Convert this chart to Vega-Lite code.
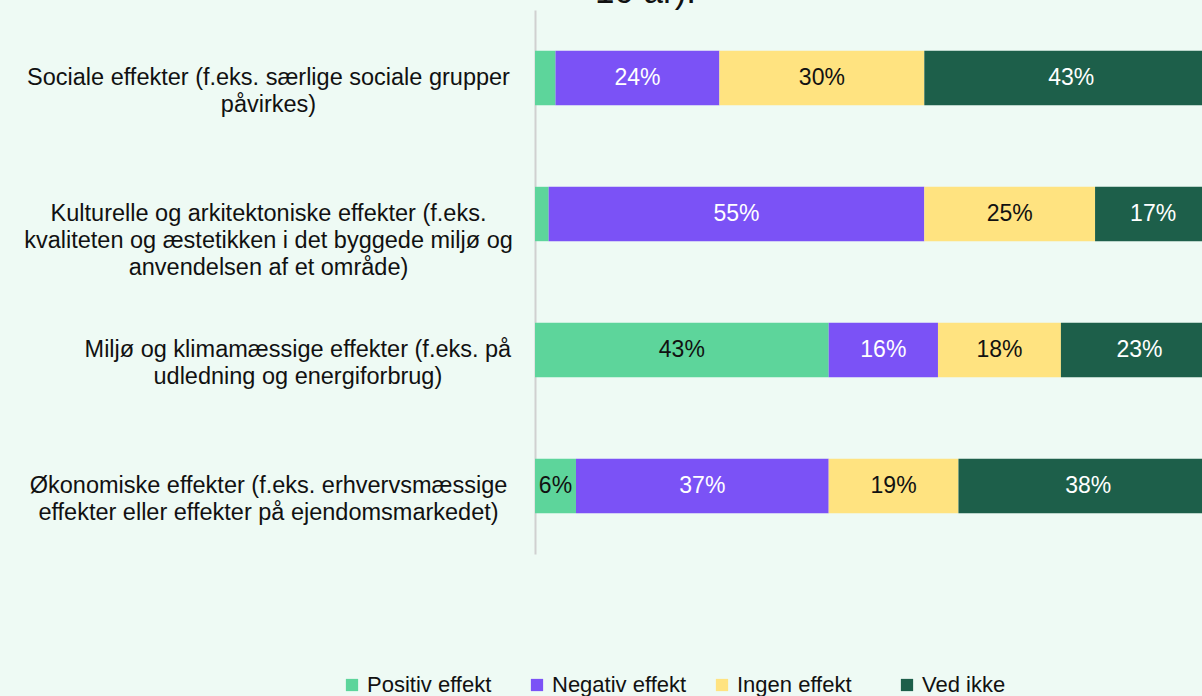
{
  "$schema": "https://vega.github.io/schema/vega-lite/v6.json",
  "width": 683,
  "height": 544,
  "autosize": {"type": "none"},
  "padding": {"left": 535, "top": 10, "right": 0, "bottom": 142},
  "background": "#eefaf4",
  "config": {"view": {"stroke": null}, "font": "Liberation Sans"},
  "title": {"text": "10 år).", "anchor": "middle", "frame": "group", "dx": -231, "dy": 28, "offset": 0, "baseline": "alphabetic", "fontSize": 35, "font": "Liberation Sans", "fontWeight": "normal", "color": "#111111"},
  "data": {"values": [
    {"effekt": "Sociale effekter (f.eks. særlige sociale grupper|påvirkes)", "kategori": "Positiv effekt", "ord": 1, "andel": 0.03},
    {"effekt": "Sociale effekter (f.eks. særlige sociale grupper|påvirkes)", "kategori": "Negativ effekt", "ord": 2, "andel": 0.24},
    {"effekt": "Sociale effekter (f.eks. særlige sociale grupper|påvirkes)", "kategori": "Ingen effekt", "ord": 3, "andel": 0.30},
    {"effekt": "Sociale effekter (f.eks. særlige sociale grupper|påvirkes)", "kategori": "Ved ikke", "ord": 4, "andel": 0.43},
    {"effekt": "Kulturelle og arkitektoniske effekter (f.eks.|kvaliteten og æstetikken i det byggede miljø og|anvendelsen af et område)", "kategori": "Positiv effekt", "ord": 1, "andel": 0.02},
    {"effekt": "Kulturelle og arkitektoniske effekter (f.eks.|kvaliteten og æstetikken i det byggede miljø og|anvendelsen af et område)", "kategori": "Negativ effekt", "ord": 2, "andel": 0.55},
    {"effekt": "Kulturelle og arkitektoniske effekter (f.eks.|kvaliteten og æstetikken i det byggede miljø og|anvendelsen af et område)", "kategori": "Ingen effekt", "ord": 3, "andel": 0.25},
    {"effekt": "Kulturelle og arkitektoniske effekter (f.eks.|kvaliteten og æstetikken i det byggede miljø og|anvendelsen af et område)", "kategori": "Ved ikke", "ord": 4, "andel": 0.17},
    {"effekt": "Miljø og klimamæssige effekter (f.eks. på|udledning og energiforbrug)", "kategori": "Positiv effekt", "ord": 1, "andel": 0.43},
    {"effekt": "Miljø og klimamæssige effekter (f.eks. på|udledning og energiforbrug)", "kategori": "Negativ effekt", "ord": 2, "andel": 0.16},
    {"effekt": "Miljø og klimamæssige effekter (f.eks. på|udledning og energiforbrug)", "kategori": "Ingen effekt", "ord": 3, "andel": 0.18},
    {"effekt": "Miljø og klimamæssige effekter (f.eks. på|udledning og energiforbrug)", "kategori": "Ved ikke", "ord": 4, "andel": 0.23},
    {"effekt": "Økonomiske effekter (f.eks. erhvervsmæssige|effekter eller effekter på ejendomsmarkedet)", "kategori": "Positiv effekt", "ord": 1, "andel": 0.06},
    {"effekt": "Økonomiske effekter (f.eks. erhvervsmæssige|effekter eller effekter på ejendomsmarkedet)", "kategori": "Negativ effekt", "ord": 2, "andel": 0.37},
    {"effekt": "Økonomiske effekter (f.eks. erhvervsmæssige|effekter eller effekter på ejendomsmarkedet)", "kategori": "Ingen effekt", "ord": 3, "andel": 0.19},
    {"effekt": "Økonomiske effekter (f.eks. erhvervsmæssige|effekter eller effekter på ejendomsmarkedet)", "kategori": "Ved ikke", "ord": 4, "andel": 0.38}
  ]},
  "transform": [
    {"stack": "andel", "groupby": ["effekt"], "sort": [{"field": "ord", "order": "ascending"}], "as": ["v0", "v1"]},
    {"calculate": "(datum.v0 + datum.v1) / 2", "as": "midt"}
  ],
  "encoding": {
    "y": {
      "field": "effekt",
      "type": "nominal",
      "sort": [
        "Sociale effekter (f.eks. særlige sociale grupper|påvirkes)",
        "Kulturelle og arkitektoniske effekter (f.eks.|kvaliteten og æstetikken i det byggede miljø og|anvendelsen af et område)",
        "Miljø og klimamæssige effekter (f.eks. på|udledning og energiforbrug)",
        "Økonomiske effekter (f.eks. erhvervsmæssige|effekter eller effekter på ejendomsmarkedet)"
      ],
      "scale": {"paddingInner": 0.6, "paddingOuter": 0.3},
      "axis": {
        "title": null,
        "ticks": false,
        "tickSize": 0,
        "domain": true,
        "domainColor": "#d0d0d0",
        "domainWidth": 2,
        "labelAlign": "center",
        "labelBaseline": "middle",
        "labelPadding": 267,
        "labelFont": "Liberation Sans",
        "labelFontSize": 23.5,
        "labelColor": "#111111",
        "labelLineHeight": 27,
        "labelLimit": 0,
        "labelExpr": "split(indexof(datum.label, 'Miljø') === 0 ? replace('\u200b\u00a0\u00a0\u00a0\u00a0\u00a0\u00a0\u00a0\u00a0\u00a0' + datum.label, '|', '|\u200b\u00a0\u00a0\u00a0\u00a0\u00a0\u00a0\u00a0\u00a0\u00a0') : datum.label, '|')"
      }
    }
  },
  "layer": [
    {
      "mark": {"type": "bar"},
      "encoding": {
        "x": {"field": "v0", "type": "quantitative", "scale": {"domain": [0, 1], "nice": false}, "axis": null},
        "x2": {"field": "v1"},
        "color": {
          "field": "kategori",
          "type": "nominal",
          "scale": {"domain": ["Positiv effekt", "Negativ effekt", "Ingen effekt", "Ved ikke"], "range": ["#5dd59b", "#7b52f6", "#ffe380", "#1d5f4a"]},
          "legend": {
            "orient": "none",
            "legendX": -194,
            "legendY": 664,
            "direction": "horizontal",
            "columns": 4,
            "gridAlign": "all",
            "title": null,
            "symbolType": "square",
            "symbolSize": 150,
            "symbolStrokeWidth": 0,
            "symbolOpacity": 1,
            "labelFont": "Liberation Sans",
            "labelFontSize": 22,
            "labelColor": "#111111",
            "labelOffset": 4,
            "columnPadding": 24,
            "padding": 0
          }
        }
      }
    },
    {
      "transform": [{"filter": "datum.andel >= 0.05"}],
      "mark": {"type": "text", "align": "center", "baseline": "middle", "font": "Liberation Sans", "fontSize": 23},
      "encoding": {
        "x": {"field": "midt", "type": "quantitative"},
        "text": {"field": "andel", "type": "quantitative", "format": ".0%"},
        "color": {"condition": {"test": "datum.kategori === 'Negativ effekt' || datum.kategori === 'Ved ikke'", "value": "#ffffff"}, "value": "#111111"}
      }
    }
  ]
}
